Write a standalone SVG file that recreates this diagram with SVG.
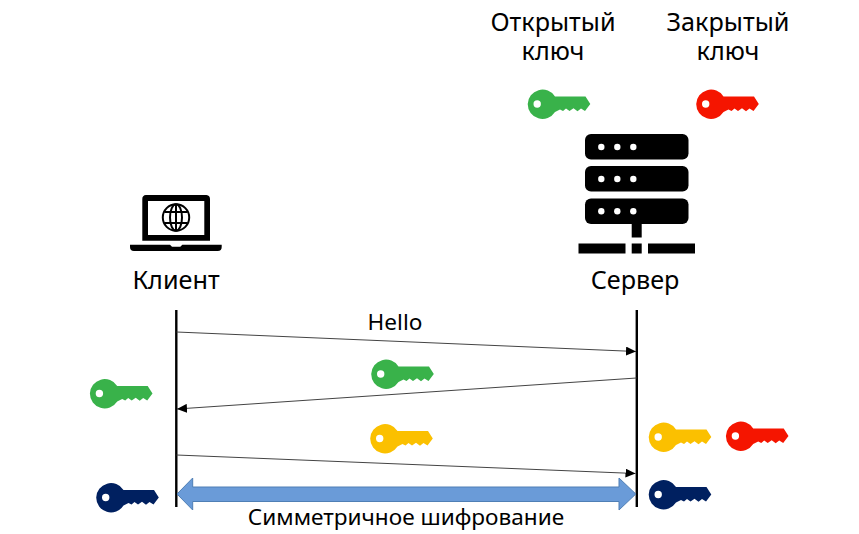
<svg xmlns="http://www.w3.org/2000/svg" width="859" height="534" viewBox="0 0 859 534">
<style>
text{font-family:"Noto Sans","Open Sans","DejaVu Sans",sans-serif;font-size:25.200px;fill:#000;text-anchor:middle}
.small{font-size:22.600px}
.life{stroke:#000;stroke-width:2.400;fill:none}
.msg{stroke:#444;stroke-width:1;fill:none;marker-end:url(#ah)}
.green{fill:#39b24a}.red{fill:#f51500}.yellow{fill:#fbc000}.navy{fill:#002060}
</style>
<defs>
<marker id="ah" markerUnits="userSpaceOnUse" markerWidth="11" markerHeight="9" refX="10" refY="4.500" orient="auto"><path d="M0 0L10 4.500L0 9Z" fill="#000"/></marker>
<path id="key" fill-rule="evenodd" d="M-14.800 0A14.800 14.800 0 0 1 12.500 -7.500H43L47.800 0L42.500 7L38.500 4.500L35 7.300L31 4.200L27 7L23.500 4.500L20.500 7L17.500 5.500L12.500 8A14.800 14.800 0 0 1 -14.800 0ZM-9 0A3.700 3.700 0 1 0 -1.600 0A3.700 3.700 0 1 0 -9 0Z"/>
</defs>
<g id="label-public"><text x="553" y="31">Открытый</text><text x="553" y="60">ключ</text></g>
<g id="label-private"><text x="728" y="31">Закрытый</text><text x="728" y="60">ключ</text></g>
<g id="key-public-top"><use href="#key" x="542.500" y="104" class="green"/></g>
<g id="key-private-top"><use href="#key" x="711" y="104" class="red"/></g>
<g id="server">
<rect x="585" y="134" width="103.500" height="25.500" rx="6"/><rect x="585" y="166" width="103.500" height="25.500" rx="6"/><rect x="585" y="198.500" width="103.500" height="25.500" rx="6"/>
<g fill="#fff"><circle cx="601.300" cy="147" r="3.200"/><circle cx="617.300" cy="147" r="3.200"/><circle cx="633.300" cy="147" r="3.200"/><circle cx="601.300" cy="179" r="3.200"/><circle cx="617.300" cy="179" r="3.200"/><circle cx="633.300" cy="179" r="3.200"/><circle cx="601.300" cy="211.300" r="3.200"/><circle cx="617.300" cy="211.300" r="3.200"/><circle cx="633.300" cy="211.300" r="3.200"/></g>
<rect x="631.700" y="224" width="10" height="13.500"/><rect x="578.500" y="243.500" width="47" height="10"/><rect x="631.700" y="243.500" width="10" height="10"/><rect x="648" y="243.500" width="47" height="10"/>
<text x="635" y="289">Сервер</text>
</g>
<g id="client">
<path fill-rule="evenodd" d="M146 195H206.500A4 4 0 0 1 210 199V240.700H142.300V199A4 4 0 0 1 146 195ZM148 201V235H204.300V201Z"/>
<path d="M130 244.700H170L172 246.700H180.300L182.300 244.700H221.700V247A4 4 0 0 1 217.700 251H134A4 4 0 0 1 130 247Z"/>
<g fill="none" stroke="#000" stroke-width="2"><circle cx="176" cy="217.500" r="13.200"/><ellipse cx="176" cy="217.500" rx="6" ry="13.200"/><path d="M176 204.500V230.500M164.500 212H187.500M164.500 223H187.500"/></g>
<text x="176" y="289">Клиент</text>
</g>
<g id="connectors">
<path class="life" d="M176.300 310V507M636.800 310V507"/>
<path class="msg" d="M176.500 332L636 351.500"/>
<path class="msg" d="M636.500 378L177 409"/>
<path class="msg" d="M176.500 455L635.500 473.500"/>
<path d="M177 494L192.700 478V487H619V478L635.800 494L619 510V501.500H192.700V510Z" fill="#6a9bd8" stroke="#4f7fb5" stroke-width="1"/>
</g>
<g id="label-hello"><text class="small" x="395" y="330">Hello</text></g>
<g id="label-symmetric"><text class="small" x="406" y="525">Симметричное шифрование</text></g>
<g id="key-public-msg"><use href="#key" x="386" y="374" class="green"/></g>
<g id="key-public-client"><use href="#key" x="104.700" y="393.500" class="green"/></g>
<g id="key-session-msg"><use href="#key" x="385" y="438.500" class="yellow"/></g>
<g id="key-session-server"><use href="#key" x="663.500" y="437" class="yellow"/></g>
<g id="key-private-server"><use href="#key" x="740.700" y="436" class="red"/></g>
<g id="key-sym-client"><use href="#key" x="111" y="497.500" class="navy"/></g>
<g id="key-sym-server"><use href="#key" x="663.500" y="494.500" class="navy"/></g>
</svg>
